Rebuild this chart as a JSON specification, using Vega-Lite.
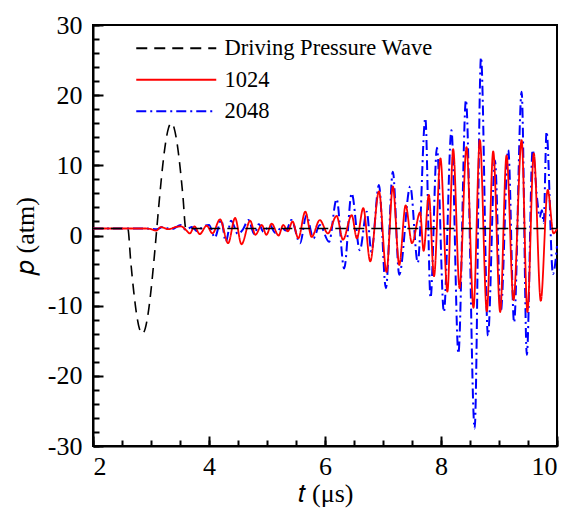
{
  "$schema": "https://vega.github.io/schema/vega-lite/v6.json",
  "width": 464,
  "height": 421,
  "autosize": {"type": "none"},
  "padding": {"left": 93, "top": 25, "right": 13, "bottom": 62},
  "background": "white",
  "config": {
    "view": {"stroke": "black", "strokeWidth": 2},
    "font": "Liberation Serif",
    "axis": {"grid": false},
    "legend": {
      "orient": "none",
      "legendX": 72,
      "legendY": 12,
      "symbolType": "M-4,0H4",
      "symbolSize": 400,
      "symbolStrokeWidth": 2,
      "labelFontSize": 22.5,
      "labelColor": "black",
      "labelOffset": 37,
      "labelLimit": 0,
      "rowPadding": 8.5
    }
  },
  "data": {
    "values": [
      {"s": "Driving Pressure Wave", "t": 2.0, "p": 1},
      {"s": "Driving Pressure Wave", "t": 2.6, "p": 1},
      {"s": "Driving Pressure Wave", "t": 2.65, "p": -3.64},
      {"s": "Driving Pressure Wave", "t": 2.7, "p": -7.82},
      {"s": "Driving Pressure Wave", "t": 2.75, "p": -11.14},
      {"s": "Driving Pressure Wave", "t": 2.8, "p": -13.27},
      {"s": "Driving Pressure Wave", "t": 2.85, "p": -14},
      {"s": "Driving Pressure Wave", "t": 2.9, "p": -13.27},
      {"s": "Driving Pressure Wave", "t": 2.95, "p": -11.14},
      {"s": "Driving Pressure Wave", "t": 3.0, "p": -7.82},
      {"s": "Driving Pressure Wave", "t": 3.05, "p": -3.64},
      {"s": "Driving Pressure Wave", "t": 3.1, "p": 1},
      {"s": "Driving Pressure Wave", "t": 3.15, "p": 5.64},
      {"s": "Driving Pressure Wave", "t": 3.2, "p": 9.82},
      {"s": "Driving Pressure Wave", "t": 3.25, "p": 13.14},
      {"s": "Driving Pressure Wave", "t": 3.3, "p": 15.27},
      {"s": "Driving Pressure Wave", "t": 3.35, "p": 16},
      {"s": "Driving Pressure Wave", "t": 3.4, "p": 15.27},
      {"s": "Driving Pressure Wave", "t": 3.45, "p": 13.14},
      {"s": "Driving Pressure Wave", "t": 3.5, "p": 9.82},
      {"s": "Driving Pressure Wave", "t": 3.55, "p": 5.64},
      {"s": "Driving Pressure Wave", "t": 3.6, "p": 1},
      {"s": "Driving Pressure Wave", "t": 10.0, "p": 1},

      {"s": "1024", "t": 2.0, "p": 1},
      {"s": "1024", "t": 2.9, "p": 1},
      {"s": "1024", "t": 3.0, "p": 0.9},
      {"s": "1024", "t": 3.09, "p": 0.7},
      {"s": "1024", "t": 3.17, "p": 1.2},
      {"s": "1024", "t": 3.3, "p": 0.9},
      {"s": "1024", "t": 3.42, "p": 1.2},
      {"s": "1024", "t": 3.52, "p": 1.3},
      {"s": "1024", "t": 3.6, "p": 0.8},
      {"s": "1024", "t": 3.67, "p": 0.3},
      {"s": "1024", "t": 3.75, "p": 1.3},
      {"s": "1024", "t": 3.84, "p": 0.2},
      {"s": "1024", "t": 3.96, "p": 1.4},
      {"s": "1024", "t": 4.06, "p": 0.3},
      {"s": "1024", "t": 4.19, "p": 2.3},
      {"s": "1024", "t": 4.33, "p": -1.1},
      {"s": "1024", "t": 4.45, "p": 2.5},
      {"s": "1024", "t": 4.56, "p": -1.25},
      {"s": "1024", "t": 4.71, "p": 2.1},
      {"s": "1024", "t": 4.8, "p": 0.1},
      {"s": "1024", "t": 4.91, "p": 1.5},
      {"s": "1024", "t": 4.99, "p": 0.1},
      {"s": "1024", "t": 5.08, "p": 1.7},
      {"s": "1024", "t": 5.2, "p": 0.0},
      {"s": "1024", "t": 5.28, "p": 1.5},
      {"s": "1024", "t": 5.36, "p": 0.6},
      {"s": "1024", "t": 5.44, "p": 2.0},
      {"s": "1024", "t": 5.54, "p": -0.4},
      {"s": "1024", "t": 5.66, "p": 3.4},
      {"s": "1024", "t": 5.77, "p": -0.2},
      {"s": "1024", "t": 5.91, "p": 2.2},
      {"s": "1024", "t": 6.05, "p": 0.3},
      {"s": "1024", "t": 6.2, "p": 2.8},
      {"s": "1024", "t": 6.31, "p": -0.6},
      {"s": "1024", "t": 6.46, "p": 2.9},
      {"s": "1024", "t": 6.55, "p": -0.4},
      {"s": "1024", "t": 6.66, "p": 3.9},
      {"s": "1024", "t": 6.78, "p": -3.7},
      {"s": "1024", "t": 6.93, "p": 6.3},
      {"s": "1024", "t": 7.06, "p": -5.2},
      {"s": "1024", "t": 7.17, "p": 7.0},
      {"s": "1024", "t": 7.28, "p": -4.2},
      {"s": "1024", "t": 7.39, "p": 4.3},
      {"s": "1024", "t": 7.5, "p": -1.1},
      {"s": "1024", "t": 7.64, "p": 3.3},
      {"s": "1024", "t": 7.7, "p": -2.2},
      {"s": "1024", "t": 7.79, "p": 5.8},
      {"s": "1024", "t": 7.88, "p": -5.8},
      {"s": "1024", "t": 7.99, "p": 11.0},
      {"s": "1024", "t": 8.11, "p": -8.0},
      {"s": "1024", "t": 8.21, "p": 12.3},
      {"s": "1024", "t": 8.32, "p": -7.5},
      {"s": "1024", "t": 8.44, "p": 12.6},
      {"s": "1024", "t": 8.56, "p": -10.3},
      {"s": "1024", "t": 8.67, "p": 13.6},
      {"s": "1024", "t": 8.79, "p": -10.8},
      {"s": "1024", "t": 8.9, "p": 12.0},
      {"s": "1024", "t": 9.02, "p": -10.9},
      {"s": "1024", "t": 9.13, "p": 11.4},
      {"s": "1024", "t": 9.25, "p": -9.2},
      {"s": "1024", "t": 9.39, "p": 13.6},
      {"s": "1024", "t": 9.49, "p": -10.9},
      {"s": "1024", "t": 9.6, "p": 11.7},
      {"s": "1024", "t": 9.72, "p": -9.3},
      {"s": "1024", "t": 9.84, "p": 6.5},
      {"s": "1024", "t": 9.94, "p": 0.3},
      {"s": "1024", "t": 10.0, "p": 1.0},

      {"s": "2048", "t": 2.0, "p": 1},
      {"s": "2048", "t": 2.9, "p": 1},
      {"s": "2048", "t": 3.1, "p": 0.9},
      {"s": "2048", "t": 3.2, "p": 1.2},
      {"s": "2048", "t": 3.35, "p": 0.9},
      {"s": "2048", "t": 3.52, "p": 1.5},
      {"s": "2048", "t": 3.6, "p": 0.8},
      {"s": "2048", "t": 3.7, "p": 1.2},
      {"s": "2048", "t": 3.8, "p": 0.6},
      {"s": "2048", "t": 3.9, "p": 1.3},
      {"s": "2048", "t": 4.0, "p": 1.5},
      {"s": "2048", "t": 4.1, "p": -0.3},
      {"s": "2048", "t": 4.21, "p": 2.2},
      {"s": "2048", "t": 4.29, "p": -0.9},
      {"s": "2048", "t": 4.38, "p": 2.1},
      {"s": "2048", "t": 4.5, "p": 0.2},
      {"s": "2048", "t": 4.58, "p": 0.8},
      {"s": "2048", "t": 4.68, "p": 2.2},
      {"s": "2048", "t": 4.78, "p": 0.2},
      {"s": "2048", "t": 4.86, "p": 1.6},
      {"s": "2048", "t": 4.94, "p": 0.5},
      {"s": "2048", "t": 5.05, "p": 1.5},
      {"s": "2048", "t": 5.14, "p": 0.4},
      {"s": "2048", "t": 5.25, "p": 1.1},
      {"s": "2048", "t": 5.33, "p": 0.7},
      {"s": "2048", "t": 5.42, "p": 2.2},
      {"s": "2048", "t": 5.57, "p": -1.1},
      {"s": "2048", "t": 5.68, "p": 2.9},
      {"s": "2048", "t": 5.8, "p": -0.4},
      {"s": "2048", "t": 5.91, "p": 1.5},
      {"s": "2048", "t": 6.07, "p": -0.9},
      {"s": "2048", "t": 6.2, "p": 5.2},
      {"s": "2048", "t": 6.33, "p": -4.7},
      {"s": "2048", "t": 6.46, "p": 6.0},
      {"s": "2048", "t": 6.6, "p": -2.1},
      {"s": "2048", "t": 6.72, "p": 3.4},
      {"s": "2048", "t": 6.8, "p": -2.3},
      {"s": "2048", "t": 6.93, "p": 7.2},
      {"s": "2048", "t": 7.05, "p": -7.5},
      {"s": "2048", "t": 7.17, "p": 9.1},
      {"s": "2048", "t": 7.28, "p": -5.6},
      {"s": "2048", "t": 7.47, "p": 7.0},
      {"s": "2048", "t": 7.6, "p": -3.9},
      {"s": "2048", "t": 7.73, "p": 16.7},
      {"s": "2048", "t": 7.82, "p": -8.9},
      {"s": "2048", "t": 7.93, "p": 12.5},
      {"s": "2048", "t": 8.05, "p": -10.9},
      {"s": "2048", "t": 8.18, "p": 15.0},
      {"s": "2048", "t": 8.3, "p": -16.8},
      {"s": "2048", "t": 8.43, "p": 19.3},
      {"s": "2048", "t": 8.58, "p": -27.5},
      {"s": "2048", "t": 8.69, "p": 25.4},
      {"s": "2048", "t": 8.81, "p": -14.3},
      {"s": "2048", "t": 8.93, "p": 10.7},
      {"s": "2048", "t": 9.03, "p": -10.9},
      {"s": "2048", "t": 9.16, "p": 12.2},
      {"s": "2048", "t": 9.26, "p": -12.4},
      {"s": "2048", "t": 9.39, "p": 20.5},
      {"s": "2048", "t": 9.48, "p": -17.0},
      {"s": "2048", "t": 9.58, "p": 12.2},
      {"s": "2048", "t": 9.66, "p": 5.0},
      {"s": "2048", "t": 9.7, "p": 2.6},
      {"s": "2048", "t": 9.74, "p": 3.6},
      {"s": "2048", "t": 9.77, "p": 1.8},
      {"s": "2048", "t": 9.82, "p": 14.8},
      {"s": "2048", "t": 9.93, "p": -5.5},
      {"s": "2048", "t": 10.0, "p": -1.5}
    ]
  },
  "resolve": {"axis": {"x": "independent", "y": "independent"}},
  "layer": [
    {
      "mark": {"type": "line", "opacity": 0},
      "encoding": {
        "x": {
          "field": "t", "type": "quantitative",
          "scale": {"domain": [2, 10], "nice": false, "zero": false},
          "axis": {"orient": "top", "offset": -421, "values": [2, 2.5, 3, 3.5, 4, 4.5, 5, 5.5, 6, 6.5, 7, 7.5, 8, 8.5, 9, 9.5, 10], "labels": false, "domain": false, "tickSize": 6, "tickWidth": 2, "tickColor": "#000000", "title": null}
        },
        "y": {
          "field": "p", "type": "quantitative",
          "scale": {"domain": [-30, 30], "nice": false, "zero": false},
          "axis": {"orient": "right", "offset": -464, "values": [-30, -28, -26, -24, -22, -20, -18, -16, -14, -12, -10, -8, -6, -4, -2, 0, 2, 4, 6, 8, 10, 12, 14, 16, 18, 20, 22, 24, 26, 28, 30], "labels": false, "domain": false, "tickSize": 6, "tickWidth": 2, "tickColor": "#000000", "title": null}
        }
      }
    },
    {
      "layer": [
        {
          "transform": [{"filter": "datum.s == '2048'"}],
          "mark": {"type": "line", "strokeWidth": 2, "interpolate": "monotone"},
          "encoding": {
            "x": {
              "field": "t", "type": "quantitative",
              "scale": {"domain": [2, 10], "nice": false, "zero": false},
              "axis": {"orient": "bottom", "values": [2, 4, 6, 8, 10], "tickSize": -10, "tickWidth": 2, "tickColor": "#000000", "labelPadding": 17, "labelFontSize": 26, "labelColor": "black", "title": "𝑡 (μs)", "titleFontSize": 26, "titleFontWeight": "normal", "titleColor": "black", "titlePadding": 1, "domainColor": "black", "domainWidth": 2, "labelExpr": "'' + datum.value"}
            },
            "y": {
              "field": "p", "type": "quantitative",
              "scale": {"domain": [-30, 30], "nice": false, "zero": false},
              "axis": {"orient": "left", "values": [-30, -20, -10, 0, 10, 20, 30], "tickSize": -10, "tickWidth": 2, "tickColor": "#000000", "labelPadding": 21, "labelFontSize": 26, "labelColor": "black", "title": "𝑝 (atm)", "titleFontSize": 26, "titleFontWeight": "normal", "titleColor": "black", "titlePadding": 9, "domainColor": "black", "domainWidth": 2, "labelExpr": "'' + datum.value"}
            },
            "color": {"field": "s", "type": "nominal", "title": null, "scale": {"domain": ["Driving Pressure Wave", "1024", "2048"], "range": ["#000000", "#ff0000", "#0000ff"]}},
            "strokeDash": {"field": "s", "type": "nominal", "title": null, "scale": {"domain": ["Driving Pressure Wave", "1024", "2048"], "range": [[11, 7], [1, 0], [10, 4, 2, 4]]}}
          }
        },
        {
          "transform": [{"filter": "datum.s == '1024'"}],
          "mark": {"type": "line", "strokeWidth": 1.8, "interpolate": "monotone"},
          "encoding": {
            "x": {"field": "t", "type": "quantitative"},
            "y": {"field": "p", "type": "quantitative"},
            "color": {"field": "s", "type": "nominal", "title": null},
            "strokeDash": {"field": "s", "type": "nominal", "title": null}
          }
        },
        {
          "transform": [{"filter": "datum.s == 'Driving Pressure Wave'"}],
          "mark": {"type": "line", "strokeWidth": 1.6, "interpolate": "monotone"},
          "encoding": {
            "x": {"field": "t", "type": "quantitative"},
            "y": {"field": "p", "type": "quantitative"},
            "color": {"field": "s", "type": "nominal", "title": null},
            "strokeDash": {"field": "s", "type": "nominal", "title": null}
          }
        }
      ]
    }
  ]
}
